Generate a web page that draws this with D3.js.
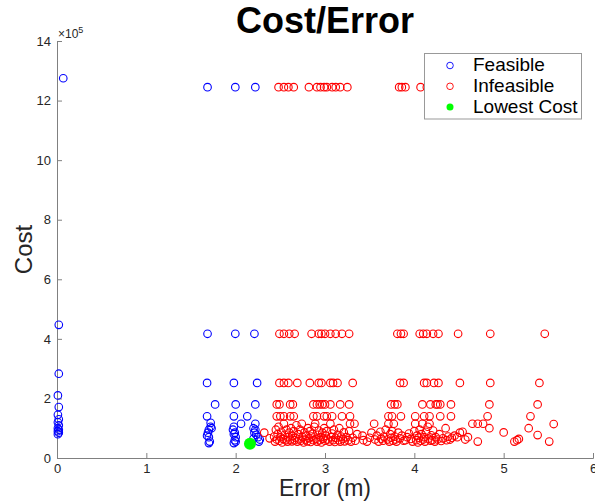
<!DOCTYPE html>
<html><head><meta charset="utf-8">
<script src="https://cdn.jsdelivr.net/npm/d3@7"></script>
<style>body{margin:0;background:#fff;} text{font-family:"Liberation Sans",Arial,sans-serif;}</style>
</head><body>
<svg id="chart" width="595" height="503"></svg>
<script>
// Cost values are in units of 1e5
const xTicks = [0,1,2,3,4,5,6];
const yTicks = [0,2,4,6,8,10,12,14];
const feasible = [
  [0.07,12.75],[0.02,4.47],[0.02,2.83],[0.01,2.1],[0.02,1.71],[0.01,1.45],[0.02,1.3],[0.01,1.2],[0.02,1.1],[0.01,1.0],[0.02,0.95],[0.01,0.9],[0.02,0.85],[0.01,0.8],
  [1.685,12.45],[1.996,12.45],[2.22,12.45],
  [1.685,4.17],[1.996,4.17],[2.21,4.17],
  [1.68,2.52],[1.98,2.52],[2.24,2.52],
  [1.77,1.8],[2.0,1.8],[2.22,1.8],
  [1.68,1.4],[1.98,1.4],[2.13,1.4],
  [1.72,1.18],[2.06,1.15],[2.22,1.15],
  [1.73,1.0],[1.72,1.05],[1.7,0.95],[1.69,0.85],[1.68,0.75],[1.7,0.7],[1.71,0.55],[1.7,0.5],
  [1.98,1.05],[1.97,0.95],[1.99,0.85],[1.98,0.8],[2.0,0.7],[1.99,0.6],[1.98,0.5],[2.0,0.55],
  [2.2,1.0],[2.22,0.95],[2.21,0.85],[2.23,0.78],[2.25,0.7],[2.27,0.62],[2.26,0.55],[2.2,0.65]
];
const infeasibleRowsX = {
  12.45: [2.48,2.54,2.59,2.65,2.82,2.91,2.95,2.99,3.02,3.08,3.12,3.17,3.25,3.83,3.86,3.9,4.07,4.14,4.21,4.27,4.49,4.85,5.46],
  4.17: [2.49,2.54,2.6,2.66,2.85,2.93,2.96,3.0,3.06,3.12,3.19,3.27,3.81,3.85,3.88,4.06,4.1,4.14,4.21,4.27,4.49,4.85,5.46],
  2.52: [2.49,2.54,2.59,2.69,2.83,2.93,2.96,3.06,3.09,3.14,3.31,3.84,3.88,4.11,4.14,4.22,4.27,4.51,4.85,5.40],
  1.8: [2.46,2.49,2.61,2.64,2.87,2.91,2.94,2.97,3.0,3.06,3.17,3.27,3.74,3.78,3.81,4.09,4.18,4.24,4.26,4.29,4.41,4.84,5.38],
  1.4: [2.46,2.5,2.54,2.61,2.65,2.87,2.91,2.99,3.02,3.08,3.19,3.28,3.71,3.75,3.85,4.01,4.11,4.17,4.29,4.41,4.82,5.30]
};
const infeasibleLow = [
  [2.32,0.85],[2.38,0.66],[2.43,0.72],[2.44,0.55],[2.45,0.95],[2.46,0.62],[2.47,0.8],[2.48,1.05],[2.49,0.58],[2.5,0.7],[2.51,0.88],[2.52,0.52],[2.53,0.64],[2.54,1.15],[2.55,0.78],[2.56,0.6],[2.57,0.95],[2.58,0.55],[2.59,0.7],[2.6,0.85],[2.61,0.62],[2.62,1.0],[2.63,0.56],[2.64,0.74],[2.65,0.9],[2.66,0.6],[2.67,0.68],[2.68,1.1],[2.69,0.55],[2.7,0.8],[2.71,0.63],[2.72,0.95],[2.73,0.58],[2.74,1.15],[2.75,0.7],[2.76,0.52],[2.77,0.86],[2.78,0.62],[2.79,0.75],[2.8,0.56],[2.81,1.0],[2.82,0.66],[2.83,0.9],[2.84,0.54],[2.85,0.72],[2.86,0.82],[2.87,0.6],[2.88,1.05],[2.89,1.15],[2.9,0.64],[2.91,0.55],[2.92,0.78],[2.93,0.92],[2.94,0.6],[2.95,0.7],[2.96,0.52],[2.97,0.85],[2.98,0.65],[2.99,1.0],[3.0,0.58],[3.01,0.75],[3.02,0.9],[3.03,0.62],[3.05,0.55],[3.06,1.15],[3.07,0.7],[3.08,0.82],[3.09,0.6],[3.1,0.95],[3.11,0.54],[3.12,0.68],[3.14,0.78],[3.15,0.6],[3.16,1.0],[3.17,0.55],[3.18,0.72],[3.2,0.64],[3.21,0.86],[3.22,0.56],[3.24,0.7],[3.26,0.6],[3.27,0.9],[3.28,1.15],[3.29,0.55],[3.31,0.68],[3.33,1.15],[3.34,0.58],[3.36,0.8],
  [3.42,0.75],[3.43,0.6],[3.47,0.55],[3.5,0.68],[3.52,0.85],[3.55,1.15],[3.56,0.62],[3.58,0.75],[3.6,0.55],[3.62,0.88],[3.63,0.65],[3.65,0.58],[3.66,0.72],[3.68,0.95],
  [3.7,0.62],[3.71,1.15],[3.72,0.55],[3.73,0.8],[3.74,0.68],[3.75,0.9],[3.76,0.58],[3.77,1.15],[3.78,0.72],[3.79,0.62],[3.8,0.55],[3.82,0.85],[3.84,0.66],[3.86,0.75],[3.88,0.58],[3.9,0.6],[3.92,0.7],[3.94,0.82],[3.96,0.64],[3.98,0.55],[4.0,0.9],[4.01,1.15],[4.02,0.6],[4.03,0.75],[4.04,0.52],[4.05,0.68],[4.06,0.95],[4.07,0.58],[4.08,0.8],[4.09,1.15],[4.1,0.62],[4.11,0.7],[4.12,0.55],[4.13,0.88],[4.15,1.05],[4.16,0.65],[4.17,1.15],[4.18,0.58],[4.19,0.76],[4.2,0.6],[4.21,0.92],[4.23,0.55],[4.24,0.7],[4.26,0.62],[4.28,0.8],[4.3,0.57],[4.32,0.66],[4.35,1.0],[4.36,0.6],[4.38,0.72],[4.4,0.62],[4.42,0.68],[4.45,0.75],[4.48,0.7],[4.51,0.85],[4.54,0.88],[4.57,0.62],[4.6,0.7],
  [4.65,1.15],[4.71,1.15],[4.77,1.15],[4.71,0.55],[4.84,1.0],[5.0,0.86],[5.12,0.55],[5.15,0.6],[5.17,0.64],[5.28,1.0],[5.38,0.77],[5.51,0.55],[5.56,1.14]
];
const lowestCost = [[2.16,0.48]];
const legendLabels = ["Feasible","Infeasible","Lowest Cost"];
const colors = {feasible:"#0000ff", infeasible:"#ff0000", lowest:"#00ff00"};

const infeasible = [];
Object.entries(infeasibleRowsX).forEach(([y,xs]) => xs.forEach(x => infeasible.push([x,+y])));
infeasibleLow.forEach(p => infeasible.push(p));

const svg = d3.select("#chart");
const m = {left:57, right:2, top:41, bottom:45};
const W = 595, H = 503;
const x = d3.scaleLinear().domain([0,6]).range([m.left, W-m.right]);
const y = d3.scaleLinear().domain([0,14]).range([H-m.bottom, m.top]);
const axisColor = "#808080";

const gx = svg.append("g").attr("transform",`translate(0,${y(0)})`)
  .call(d3.axisBottom(x).tickValues(xTicks).tickSize(-5).tickPadding(6).tickFormat(d3.format("d")));
const gy = svg.append("g").attr("transform",`translate(${x(0)},0)`)
  .call(d3.axisLeft(y).tickValues(yTicks).tickSize(-5).tickPadding(6).tickFormat(d3.format("d")));
[gx,gy].forEach(g => {
  g.select(".domain").attr("stroke",axisColor);
  g.selectAll(".tick line").attr("stroke",axisColor);
  g.selectAll(".tick text").attr("fill","#262626").attr("font-size",13).attr("font-family","Liberation Sans, Arial, sans-serif");
});

// exponent label
const ex = svg.append("text").attr("x", x(0)+1).attr("y", y(14)-3).attr("fill","#262626").attr("font-size",12);
ex.append("tspan").text("\u00d710");
ex.append("tspan").attr("dy",-5).attr("font-size",9).text("5");

const r = 3.8;
svg.append("g").selectAll("circle").data(feasible).join("circle")
  .attr("cx",d=>x(d[0])).attr("cy",d=>y(d[1])).attr("r",r)
  .attr("fill","none").attr("stroke",colors.feasible).attr("stroke-width",1.1);
svg.append("g").selectAll("circle").data(infeasible).join("circle")
  .attr("cx",d=>x(d[0])).attr("cy",d=>y(d[1])).attr("r",r)
  .attr("fill","none").attr("stroke",colors.infeasible).attr("stroke-width",1.1);
svg.append("g").selectAll("circle").data(lowestCost).join("circle")
  .attr("cx",d=>x(d[0])).attr("cy",d=>y(d[1])).attr("r",6)
  .attr("fill",colors.lowest);

// title and labels
svg.append("text").attr("x",(x(0)+x(6))/2).attr("y",33).attr("text-anchor","middle")
  .attr("font-size",36).attr("font-weight","bold").attr("fill","#000").text("Cost/Error");
svg.append("text").attr("x",(x(0)+x(6))/2).attr("y",496).attr("text-anchor","middle")
  .attr("font-size",23).attr("fill","#262626").text("Error (m)");
svg.append("text").attr("transform",`translate(32,${(y(0)+y(14))/2}) rotate(-90)`).attr("text-anchor","middle")
  .attr("font-size",24).attr("fill","#262626").text("Cost");

// legend
const lg = svg.append("g");
lg.append("rect").attr("x",424.5).attr("y",53.5).attr("width",157).attr("height",65.5)
  .attr("fill","#fff").attr("stroke","#999").attr("stroke-width",1);
const rows = [
  {label:legendLabels[0], color:colors.feasible, fill:false},
  {label:legendLabels[1], color:colors.infeasible, fill:false},
  {label:legendLabels[2], color:colors.lowest, fill:true}
];
rows.forEach((d,i) => {
  const cy = 65.5 + i*20.8;
  lg.append("circle").attr("cx",450).attr("cy",cy).attr("r", d.fill?3.5:3.3)
    .attr("fill", d.fill?d.color:"none").attr("stroke", d.fill?"none":d.color).attr("stroke-width",0.9);
  lg.append("text").attr("x",473).attr("y",cy+5.8).attr("font-size",19).attr("fill","#000").text(d.label);
});
</script>
</body></html>
